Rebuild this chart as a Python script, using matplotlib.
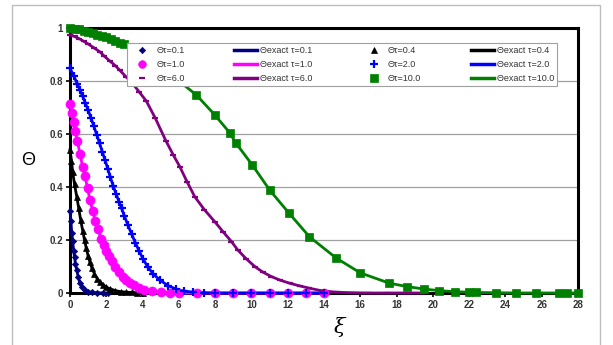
import matplotlib
matplotlib.use("Agg")
import matplotlib.pyplot as plt
from matplotlib.lines import Line2D
from matplotlib.patches import Rectangle

plt.rcParams["font.family"] = ["Liberation Sans", "DejaVu Sans"]

# values (xi, Theta) for each tau
XI_01 = [0, 0.05, 0.1, 0.15, 0.2, 0.25, 0.3, 0.37, 0.45, 0.55, 0.65, 0.8, 1.0, 1.2, 1.5, 1.8, 2.1]
TH_01 = [0.31, 0.27, 0.225, 0.195, 0.16, 0.135, 0.11, 0.087, 0.062, 0.037, 0.024, 0.013,
         0.005, 0.002, 0.001, 0, 0]

XI_04 = [0, 0.08, 0.15, 0.25, 0.37, 0.48, 0.59, 0.7, 0.8, 0.9, 1.0, 1.1, 1.2, 1.35, 1.5,
         1.65, 1.8, 2.0, 2.2, 2.5, 2.8, 3.1, 3.4, 3.7, 4.0]
TH_04 = [0.54, 0.5, 0.455, 0.41, 0.364, 0.32, 0.275, 0.235, 0.2, 0.168, 0.14, 0.116, 0.096,
         0.072, 0.054, 0.042, 0.032, 0.022, 0.016, 0.009, 0.005, 0.003, 0.002, 0.001, 0]

XI_10 = [0, 0.1, 0.2, 0.3, 0.4, 0.55, 0.7, 0.83, 0.97, 1.1, 1.25, 1.4, 1.55, 1.7, 1.85,
         2.0, 2.15, 2.3, 2.5, 2.7, 2.9, 3.1, 3.3, 3.5, 3.8, 4.1, 4.5, 5.0, 5.5, 6.0, 7.0,
         8.0, 9.0, 10.0, 11.0, 12.0, 13.0, 14.0]
TH_10 = [0.715, 0.68, 0.645, 0.61, 0.575, 0.525, 0.475, 0.44, 0.395, 0.351, 0.31, 0.27,
         0.24, 0.205, 0.182, 0.158, 0.138, 0.12, 0.098, 0.078, 0.062, 0.048, 0.038, 0.03,
         0.02, 0.012, 0.007, 0.003, 0.001, 0, 0, 0, 0, 0, 0, 0, 0, 0]

XI_20 = [0, 0.2, 0.4, 0.55, 0.7, 0.85, 1.0, 1.15, 1.3, 1.47, 1.63, 1.78, 1.93, 2.08, 2.23,
         2.38, 2.55, 2.7, 2.84, 3.0, 3.2, 3.4, 3.6, 3.8, 4.03, 4.3, 4.6, 4.95, 5.4, 5.87,
         6.3, 6.8, 7.4, 8.0, 9.0, 10.0, 11.0, 12.0, 13.0, 14.0]
TH_20 = [0.848, 0.82, 0.79, 0.766, 0.742, 0.716, 0.69, 0.662, 0.632, 0.598, 0.565, 0.533,
         0.502, 0.469, 0.436, 0.404, 0.372, 0.345, 0.32, 0.29, 0.255, 0.222, 0.19, 0.16,
         0.128, 0.097, 0.071, 0.049, 0.028, 0.014, 0.007, 0.003, 0.001, 0, 0, 0, 0, 0, 0, 0]

XI_60 = [0, 0.25, 0.5, 0.75, 1.0, 1.3, 1.65, 1.9, 2.2, 2.5, 2.75, 3.1, 3.4, 3.8, 4.2, 4.7,
         5.28, 5.7, 6.05, 6.45, 6.88, 7.4, 7.98, 8.45, 8.9, 9.25, 9.7, 10.2, 10.65, 11.1,
         11.6, 12.1, 12.65, 13.2, 13.9, 14.7, 15.5, 16.5, 17.5, 18.5, 19.5]
TH_60 = [0.974, 0.968, 0.96, 0.95, 0.94, 0.926, 0.91, 0.893, 0.875, 0.858, 0.84, 0.815,
         0.795, 0.76, 0.725, 0.66, 0.575, 0.52, 0.477, 0.42, 0.363, 0.315, 0.269, 0.23,
         0.194, 0.162, 0.13, 0.099, 0.078, 0.062, 0.048, 0.037, 0.027, 0.018, 0.008,
         0.003, 0.001, 0, 0, 0, 0]

XI_100 = [0, 0.25, 0.5, 0.75, 1.0, 1.25, 1.5, 1.75, 2.0, 2.25, 2.5, 2.75, 3.0, 4.0, 5.0,
          6.0, 6.97, 7.98, 8.8, 9.13, 10.05, 11.0, 12.05, 13.2, 14.67, 16.0, 17.6, 18.6,
          19.5, 20.35, 21.2, 22.0, 22.4, 23.5, 24.6, 25.7, 26.95, 27.4, 28.0]
TH_100 = [1.0, 0.998, 0.995, 0.99, 0.985, 0.98, 0.975, 0.97, 0.965, 0.958, 0.952, 0.945,
          0.938, 0.9, 0.86, 0.8, 0.747, 0.672, 0.605, 0.567, 0.483, 0.389, 0.303, 0.212,
          0.132, 0.076, 0.037, 0.024, 0.015, 0.009, 0.005, 0.003, 0.002, 0.001, 0, 0, 0,
          0, 0]

TAUS = ["0.1", "0.4", "1.0", "2.0", "6.0", "10.0"]
SERIES = [(XI_01, TH_01), (XI_04, TH_04), (XI_10, TH_10),
          (XI_20, TH_20), (XI_60, TH_60), (XI_100, TH_100)]
COLORS = ["#000080", "#000000", "#ff00ff", "#0000ff", "#800080", "#008000"]
MARKERS = ["D", "^", "o", "+", "_", "s"]
MSIZE = [3.2, 4.2, 6.5, 5.5, 5.0, 5.6]

fig = plt.figure(figsize=(6.13, 3.45), dpi=100)
fig.patches.append(Rectangle((12 / 613, -0.05), 588 / 613, 1.05 - 5 / 345,
                             transform=fig.transFigure, fill=False,
                             edgecolor="#bdbdbd", linewidth=1.0))
ax = fig.add_axes([70 / 613, 52 / 345, 508 / 613, 265 / 345])

mark_handles = {}
line_handles = {}
for tau, (xi, th), c, m, ms in zip(TAUS, SERIES, COLORS, MARKERS, MSIZE):
    ax.plot(xi, th, color=c, lw=2.0, zorder=3, clip_on=False)
    mew = 1.6 if m in ("+", "_") else 0.5
    ax.plot(xi, th, ls="none", marker=m, ms=ms, color=c, mec=c, mew=mew,
            zorder=4, clip_on=False)
    mark_handles[tau] = Line2D([], [], ls="none", marker=m, ms=min(ms, 5.5),
                               color=c, mec=c, mew=mew)
    line_handles[tau] = Line2D([], [], color=c, lw=2.5)

ax.set_xlim(0, 28)
ax.set_ylim(0, 1)
ax.set_xticks(range(0, 29, 2))
ax.set_yticks([0, 0.2, 0.4, 0.6, 0.8, 1.0])
ax.set_yticklabels(["0", "0.2", "0.4", "0.6", "0.8", "1"])
ax.tick_params(labelsize=7, length=3, width=1.2, pad=2)
for lab in ax.get_xticklabels() + ax.get_yticklabels():
    lab.set_fontweight("bold")
    lab.set_color("#333333")
ax.yaxis.grid(True, color="#a0a0a0", lw=0.9)
ax.set_axisbelow(True)
for sp in ax.spines.values():
    sp.set_linewidth(2.2)
    sp.set_color("black")

ax.set_xlabel("ξ", fontsize=15, fontstyle="italic", family=["DejaVu Serif"])
ax.xaxis.set_label_coords((339 - 70) / 508, -0.09, transform=ax.transAxes)
ax.set_ylabel("Θ", fontsize=13, rotation=0, va="center", ha="center")
ax.yaxis.set_label_coords(-0.082, 0.5)

# legend ordered column by column so rows read like the reference
order = [("m", "0.1"), ("m", "1.0"), ("m", "6.0"),
         ("l", "0.1"), ("l", "1.0"), ("l", "6.0"),
         ("m", "0.4"), ("m", "2.0"), ("m", "10.0"),
         ("l", "0.4"), ("l", "2.0"), ("l", "10.0")]
handles, labels = [], []
for kind, tau in order:
    if kind == "m":
        handles.append(mark_handles[tau])
        labels.append(f"Θτ={tau}")
    else:
        handles.append(line_handles[tau])
        labels.append(f"Θexact τ={tau}")
leg = ax.legend(handles, labels, ncol=4, loc="lower left",
                bbox_to_anchor=(0.112, 0.781, 0.847, 0.196), mode="expand",
                fontsize=6.5, frameon=True, fancybox=False, framealpha=1,
                edgecolor="#a0a0a0", handlelength=2.6, handletextpad=0.3,
                labelspacing=0.55, borderpad=0.35, borderaxespad=0)
leg.get_frame().set_linewidth(0.8)
leg.set_zorder(10)
for t in leg.get_texts():
    t.set_color("#333333")

fig.savefig("out.png", dpi=100)
